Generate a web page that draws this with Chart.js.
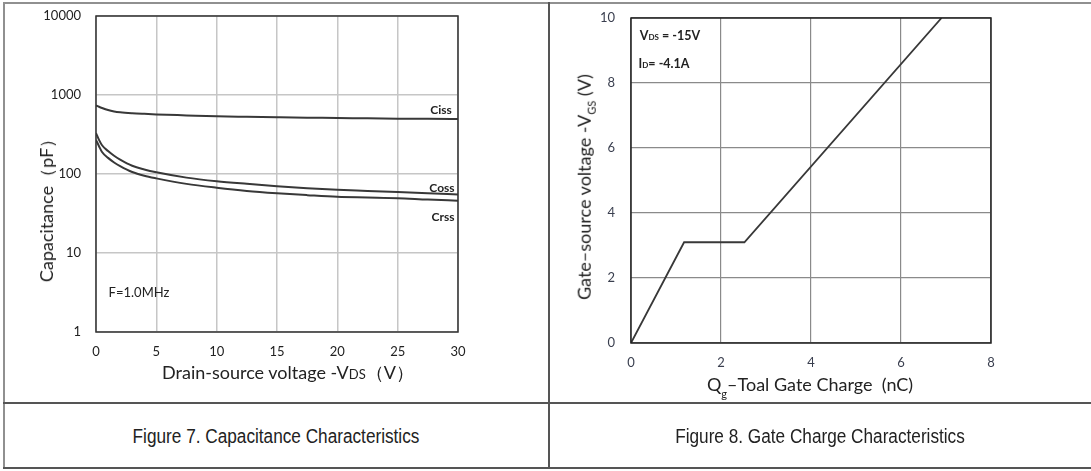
<!DOCTYPE html>
<html>
<head>
<meta charset="utf-8">
<script src="https://cdn.jsdelivr.net/npm/chart.js@4.4.1/dist/chart.umd.min.js"></script>
<style>
  body { margin: 0; background: #fff; width: 1091px; height: 471px; position: relative; overflow: hidden; font-family: Lato, sans-serif; }
  .ln { position: absolute; background: #555; }
  .txt { position: absolute; white-space: nowrap; color: #222; transform: translate(-50%, -50%); }
  .rot { transform: translate(-50%, -50%) rotate(-90deg); }
  .cap { font-family: "Liberation Sans", Arial, sans-serif; font-size: 20px; color: #222; transform: translate(-50%, -50%) scaleX(0.86); }
  canvas { position: absolute; top: 0; }
</style>
</head>
<body>
<!-- table frame -->
<div class="ln" style="left:3px;top:2px;width:1088px;height:2px;background:#909090"></div>
<div class="ln" style="left:3px;top:2px;width:2px;height:467px;background:#909090"></div>
<div class="ln" style="left:548px;top:2px;width:2px;height:467px"></div>
<div class="ln" style="left:3px;top:402px;width:1088px;height:2px"></div>
<div class="ln" style="left:3px;top:467px;width:1088px;height:2px"></div>

<div style="position:absolute;left:0;top:0;width:548px;height:400px"><canvas id="cap"></canvas></div>
<div style="position:absolute;left:550px;top:0;width:541px;height:400px"><canvas id="gate"></canvas></div>

<!-- axis titles and notes -->
<div class="txt rot" style="left:47px;top:206px;font-size:18px">Capacitance（pF）</div>
<div class="txt" style="left:288px;top:373px;font-size:18px">Drain-source voltage -V<span style="font-size:13px">DS</span>（V）</div>
<div class="txt" style="left:139px;top:292px;font-size:13px">F=1.0MHz</div>
<div class="txt" style="left:441px;top:109px;font-size:12px;font-weight:bold">Ciss</div>
<div class="txt" style="left:442px;top:187px;font-size:12px;font-weight:bold">Coss</div>
<div class="txt" style="left:443px;top:216px;font-size:12px;font-weight:bold">Crss</div>

<div class="txt rot" style="left:585px;top:187px;font-size:18px">Gate–source voltage -V<sub style="font-size:11px">GS</sub> (V)</div>
<div class="txt" style="left:810px;top:385px;font-size:18px">Q<sub style="font-size:11px;position:relative;top:2px">g</sub>–Toal Gate Charge&nbsp; (nC)</div>
<div class="txt" style="left:670px;top:35px;font-size:12.5px;font-weight:bold">V<span style="font-size:8px">DS</span> = -15V</div>
<div class="txt" style="left:664px;top:63px;font-size:12.5px;font-weight:bold">I<span style="font-size:8px">D</span>= -4.1A</div>

<div class="txt cap" style="left:276px;top:436px">Figure 7. Capacitance Characteristics</div>
<div class="txt cap" style="left:820px;top:436px">Figure 8. Gate Charge Characteristics</div>

<script>
// Figure 7 data
const vds = [0, 0.25, 0.5, 1, 1.5, 2, 3, 4, 5, 7.5, 10, 12.5, 15, 17.5, 20, 22.5, 25, 27.5, 30];
const ciss = [740, 710, 685, 645, 620, 605, 588, 577, 568, 552, 537, 529, 522, 516, 512, 506, 502, 499, 497];
const coss = [330, 270, 231, 195, 170, 152, 127, 114, 105, 90, 81, 75, 70, 66, 63, 61, 59, 57, 55];
const crss = [270, 225, 190, 160, 140, 126, 106, 95, 88, 75, 67, 61, 57, 54, 51.5, 50.5, 49.5, 47.5, 46];
const capTicks = [1, 10, 100, 1000, 10000];

// Figure 8 data
const qg = [0, 1.18, 2.52, 6.9];
const vgs = [0, 3.1, 3.1, 10];

Chart.defaults.font.family = 'Lato, sans-serif';
Chart.defaults.animation = false;

const boxPlugin = {
    id: 'box',
    afterDraw(chart, args, opts) {
        const a = chart.chartArea;
        const c = chart.ctx;
        c.save();
        c.strokeStyle = opts.color;
        c.lineWidth = opts.width;
        c.strokeRect(a.left, a.top, a.right - a.left, a.bottom - a.top);
        c.restore();
    }
};

function toPoints(xs, ys) {
    return xs.map((x, i) => ({ x: x, y: ys[i] }));
}

function curve(ys) {
    return {
        data: toPoints(vds, ys),
        borderColor: '#383838',
        borderWidth: 2,
        pointRadius: 0,
        cubicInterpolationMode: 'monotone'
    };
}

// fixed axis size, no extra label padding so the plot box lands where we want
function fixSize(w, h) {
    return function(s) {
        if (w) s.width = w;
        if (h) s.height = h;
        s.paddingTop = 0; s.paddingBottom = 0; s.paddingLeft = 0; s.paddingRight = 0;
    };
}

new Chart(document.getElementById('cap'), {
    type: 'line',
    data: { datasets: [curve(ciss), curve(coss), curve(crss)] },
    options: {
        responsive: true,
        maintainAspectRatio: false,
        layout: { padding: { top: 16, right: 90, left: 0, bottom: 0 } },
        plugins: { legend: { display: false }, tooltip: { enabled: false }, box: { color: '#333', width: 1.5 } },
        scales: {
            x: {
                type: 'linear', min: 0, max: 30,
                ticks: { stepSize: 5, padding: 12, color: '#222', font: { size: 13 } },
                grid: { color: '#c6c6c6', lineWidth: 1.5, drawTicks: false },
                border: { display: false },
                afterFit: fixSize(0, 68)
            },
            y: {
                type: 'logarithmic', min: 1, max: 10000,
                afterBuildTicks(s) { s.ticks = capTicks.map(v => ({ value: v })); },
                ticks: { padding: 15, color: '#222', font: { size: 13 }, callback: v => String(v) },
                grid: { color: '#c6c6c6', lineWidth: 1.5, drawTicks: false },
                border: { display: false },
                afterFit: fixSize(96, 0)
            }
        }
    },
    plugins: [boxPlugin]
});

new Chart(document.getElementById('gate'), {
    type: 'line',
    data: {
        datasets: [{
            data: toPoints(qg, vgs),
            borderColor: '#383838',
            borderWidth: 1.8,
            pointRadius: 0,
            tension: 0
        }]
    },
    options: {
        responsive: true,
        maintainAspectRatio: false,
        layout: { padding: { top: 18, right: 100, left: 0, bottom: 0 } },
        plugins: { legend: { display: false }, tooltip: { enabled: false }, box: { color: '#222', width: 1.5 } },
        scales: {
            x: {
                type: 'linear', min: 0, max: 8,
                ticks: { stepSize: 2, padding: 12, color: '#3a3f4f', font: { size: 13 } },
                grid: { color: '#8a8a8a', lineWidth: 1.2, drawTicks: false },
                border: { display: false },
                afterFit: fixSize(0, 57)
            },
            y: {
                type: 'linear', min: 0, max: 10,
                ticks: { stepSize: 2, padding: 16, color: '#3a3f4f', font: { size: 13 } },
                grid: { color: '#8a8a8a', lineWidth: 1.2, drawTicks: false },
                border: { display: false },
                afterFit: fixSize(81, 0)
            }
        }
    },
    plugins: [boxPlugin]
});
</script>
</body>
</html>
